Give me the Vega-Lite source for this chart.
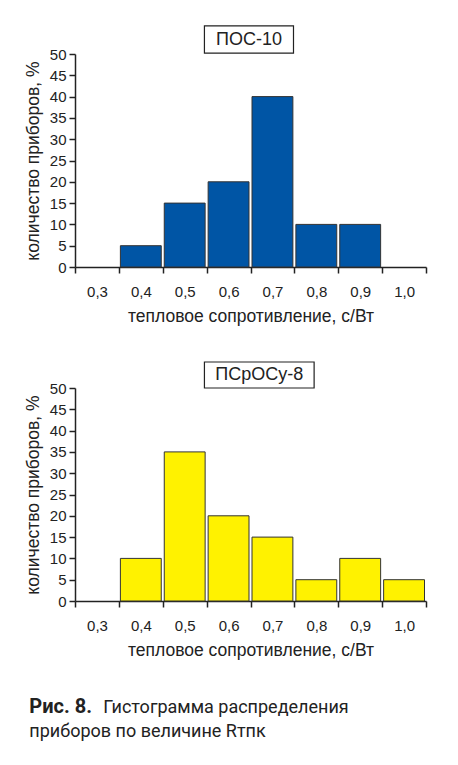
{
  "$schema": "https://vega.github.io/schema/vega-lite/v6.json",
  "background": "white",
  "padding": {"left": 24, "top": 25, "right": 18, "bottom": 10},
  "config": {
    "font": "Liberation Sans",
    "view": {"stroke": null},
    "concat": {"spacing": 36},
    "axis": {
      "grid": false,
      "domainColor": "#222",
      "domainWidth": 1.5,
      "tickColor": "#222",
      "tickWidth": 1.5,
      "tickSize": 6,
      "labelColor": "#222",
      "titleColor": "#222",
      "labelFont": "Liberation Sans",
      "titleFont": "Liberation Sans",
      "labelFontSize": 15,
      "titleFontSize": 17.5,
      "titleFontWeight": "normal",
      "labelOverlap": false
    }
  },
  "datasets": {
    "pos10": [
      {"bin": "0,4", "lo": 0.35, "hi": 0.45, "pct": 5},
      {"bin": "0,5", "lo": 0.45, "hi": 0.55, "pct": 15},
      {"bin": "0,6", "lo": 0.55, "hi": 0.65, "pct": 20},
      {"bin": "0,7", "lo": 0.65, "hi": 0.75, "pct": 40},
      {"bin": "0,8", "lo": 0.75, "hi": 0.85, "pct": 10},
      {"bin": "0,9", "lo": 0.85, "hi": 0.95, "pct": 10}
    ],
    "psros8": [
      {"bin": "0,4", "lo": 0.35, "hi": 0.45, "pct": 10},
      {"bin": "0,5", "lo": 0.45, "hi": 0.55, "pct": 35},
      {"bin": "0,6", "lo": 0.55, "hi": 0.65, "pct": 20},
      {"bin": "0,7", "lo": 0.65, "hi": 0.75, "pct": 15},
      {"bin": "0,8", "lo": 0.75, "hi": 0.85, "pct": 5},
      {"bin": "0,9", "lo": 0.85, "hi": 0.95, "pct": 10},
      {"bin": "1,0", "lo": 0.95, "hi": 1.05, "pct": 5}
    ]
  },
  "vconcat": [
    {
      "width": 351,
      "height": 213,
      "resolve": {"axis": {"y": "independent"}},
      "layer": [
        {
          "data": {"name": "pos10"},
          "mark": {"type": "rect", "fill": "#0055a5", "stroke": "#333", "strokeWidth": 1, "xOffset": 1.5, "x2Offset": -1.5},
          "encoding": {
            "x": {
              "field": "lo", "type": "quantitative",
              "scale": {"domain": [0.25, 1.05], "nice": false, "zero": false},
              "axis": {
                "values": [0.25, 0.35, 0.45, 0.55, 0.65, 0.75, 0.85, 0.95, 1.05],
                "labelExpr": "datum.value < 1 ? replace(format(datum.value + 0.05, '.1f'), '.', ',') : ''",
                "labelOffset": 22,
                "labelPadding": 11,
                "labelFlush": false,
                "labelBound": false,
                "title": "тепловое сопротивление, с/Вт",
                "titlePadding": 8
              }
            },
            "x2": {"field": "hi"},
            "y": {
              "field": "pct", "type": "quantitative",
              "scale": {"domain": [0, 50], "nice": false},
              "axis": {
                "orient": "left",
                "values": [0, 5, 10, 15, 20, 25, 30, 35, 40, 45, 50],
                "labelOverlap": false,
                "labelFlush": false,
                "labelPadding": 3,
                "title": "количество приборов, %",
                "titlePadding": 7
              }
            },
            "y2": {"datum": 0}
          }
        },
        {
          "data": {"values": [{"name": "ПОС-10"}]},
          "mark": {"type": "rect", "fill": "white", "stroke": "#222", "strokeWidth": 1.2},
          "encoding": {
            "x": {"datum": 0.545, "type": "quantitative"},
            "x2": {"datum": 0.748},
            "y": {"datum": 50.2, "type": "quantitative", "axis": null},
            "y2": {"datum": 56.6}
          }
        },
        {
          "data": {"values": [{"name": "ПОС-10"}]},
          "mark": {"type": "text", "font": "Liberation Sans", "fontSize": 18, "align": "center", "baseline": "middle", "color": "#222"},
          "encoding": {
            "x": {"datum": 0.6465, "type": "quantitative"},
            "y": {"datum": 53.4, "type": "quantitative", "axis": null},
            "text": {"field": "name"}
          }
        }
      ]
    },
    {
      "width": 351,
      "height": 213,
      "resolve": {"axis": {"y": "independent"}},
      "title": {
        "text": "Гистограмма распределения",
        "orient": "bottom",
        "anchor": "start",
        "frame": "bounds",
        "dx": 79,
        "offset": 40,
        "font": "Roboto",
        "fontSize": 18,
        "fontWeight": "normal",
        "color": "#222"
      },
      "layer": [
        {
          "data": {"name": "psros8"},
          "mark": {"type": "rect", "fill": "#fff200", "stroke": "#333", "strokeWidth": 1, "xOffset": 1.5, "x2Offset": -1.5},
          "encoding": {
            "x": {
              "field": "lo", "type": "quantitative",
              "scale": {"domain": [0.25, 1.05], "nice": false, "zero": false},
              "axis": {
                "values": [0.25, 0.35, 0.45, 0.55, 0.65, 0.75, 0.85, 0.95, 1.05],
                "labelExpr": "datum.value < 1 ? replace(format(datum.value + 0.05, '.1f'), '.', ',') : ''",
                "labelOffset": 22,
                "labelPadding": 11,
                "labelFlush": false,
                "labelBound": false,
                "title": "тепловое сопротивление, с/Вт",
                "titlePadding": 8
              }
            },
            "x2": {"field": "hi"},
            "y": {
              "field": "pct", "type": "quantitative",
              "scale": {"domain": [0, 50], "nice": false},
              "axis": {
                "orient": "left",
                "values": [0, 5, 10, 15, 20, 25, 30, 35, 40, 45, 50],
                "labelOverlap": false,
                "labelFlush": false,
                "labelPadding": 3,
                "title": "количество приборов, %",
                "titlePadding": 7
              }
            },
            "y2": {"datum": 0}
          }
        },
        {
          "data": {"values": [{"name": "ПСрОСу-8"}]},
          "mark": {"type": "rect", "fill": "white", "stroke": "#222", "strokeWidth": 1.2},
          "encoding": {
            "x": {"datum": 0.545, "type": "quantitative"},
            "x2": {"datum": 0.795},
            "y": {"datum": 50.0, "type": "quantitative", "axis": null},
            "y2": {"datum": 56.1}
          }
        },
        {
          "data": {"values": [{"name": "ПСрОСу-8"}]},
          "mark": {"type": "text", "font": "Liberation Sans", "fontSize": 18, "align": "center", "baseline": "middle", "color": "#222"},
          "encoding": {
            "x": {"datum": 0.67, "type": "quantitative"},
            "y": {"datum": 53.0, "type": "quantitative", "axis": null},
            "text": {"field": "name"}
          }
        }
      ]
    }
  ],
  "title": {
    "text": "Рис. 8.",
    "subtitle": "приборов по величине Rтпк",
    "orient": "bottom",
    "anchor": "start",
    "frame": "bounds",
    "dx": 5,
    "dy": -20,
    "offset": 0,
    "font": "Roboto",
    "fontSize": 20,
    "fontWeight": "bold",
    "color": "#222",
    "subtitleFont": "Roboto",
    "subtitleFontSize": 18,
    "subtitleFontWeight": "normal",
    "subtitleColor": "#222",
    "subtitlePadding": 6
  }
}
